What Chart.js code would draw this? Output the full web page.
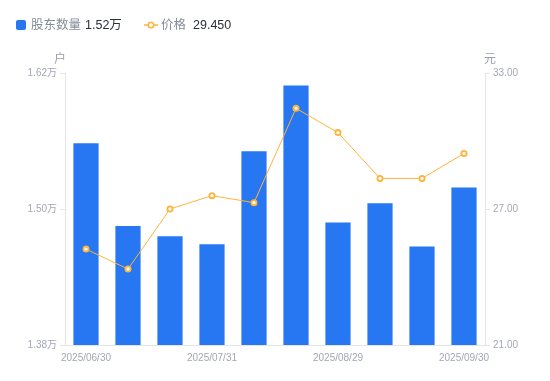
<!DOCTYPE html>
<html>
<head>
<meta charset="utf-8">
<script src="https://cdn.jsdelivr.net/npm/chart.js@4/dist/chart.umd.min.js"></script>
<style>
  html, body { margin: 0; padding: 0; background: #fff; }
  #wrap { position: relative; width: 550px; height: 381px; font-family: "Liberation Sans", "Noto Sans CJK SC", sans-serif; }
  canvas { position: absolute; left: 0; top: 0; }
  .lg { position: absolute; top: 17px; font-size: 12.5px; line-height: 16px; white-space: nowrap; }
  .lbl { color: #868b98; }
  .val { color: #2b2f3a; margin-left: 4px; }
  .unit { position: absolute; font-size: 12px; color: #9a9eaa; top: 49px; }
</style>
</head>
<body>
<div id="wrap">
  <canvas id="c" width="550" height="381"></canvas>
  <div class="lg" style="left:16px;">
    <span style="display:inline-block;width:10px;height:10px;background:#2777F3;border-radius:2px;vertical-align:-1px;margin-right:5px;"></span><span class="lbl">股东数量</span><span class="val">1.52万</span>
  </div>
  <div class="lg" style="left:144px;">
    <svg width="14" height="10" style="vertical-align:-1px;margin-right:3px;"><line x1="0" y1="5" x2="14" y2="5" stroke="#FFB33A" stroke-width="1.5"/><circle cx="7" cy="5" r="2.8" fill="#fff" stroke="#FFB33A" stroke-width="1.6"/></svg><span class="lbl">价格</span><span class="val" style="margin-left:7px;">29.450</span>
  </div>
  <div class="unit" style="left:54px;">户</div>
  <div class="unit" style="left:484px;">元</div>
</div>
<script>
const categories = ["2025/06/30","2025/07/10","2025/07/20","2025/07/31","2025/08/10","2025/08/20","2025/08/29","2025/09/10","2025/09/19","2025/09/30"];
const holders = [1.558, 1.485, 1.476, 1.469, 1.551, 1.609, 1.488, 1.505, 1.467, 1.519];
const prices = [25.23, 24.35, 27.00, 27.59, 27.28, 31.44, 30.37, 28.35, 28.35, 29.45];
const leftTicks = [1.38, 1.50, 1.62];
const rightTicks = [21.00, 27.00, 33.00];
const shownLabelIdx = [0, 3, 6, 9];

const axisColor = '#e3e5ea';
const tickColor = '#a3a7b3';
const tickFont = { family: '"Liberation Sans", "Noto Sans CJK SC", sans-serif', size: 10 };

new Chart(document.getElementById('c'), {
  data: {
    labels: categories,
    datasets: [
      {
        type: 'line', label: '价格', data: prices, yAxisID: 'y1',
        borderColor: '#FFB33A', borderWidth: 1, backgroundColor: '#fff',
        pointRadius: 2.6, pointBorderWidth: 1.8, pointBackgroundColor: '#fff', pointBorderColor: '#FFB33A',
        tension: 0, order: 0
      },
      {
        type: 'bar', label: '股东数量', data: holders, yAxisID: 'y',
        backgroundColor: '#2777F3', categoryPercentage: 0.6, barPercentage: 1.0, order: 1
      }
    ]
  },
  options: {
    responsive: false, animation: false,
    layout: { padding: { top: 73, left: 0, right: 0, bottom: 0 } },
    plugins: { legend: { display: false }, tooltip: { enabled: false } },
    scales: {
      x: {
        grid: { display: false, drawTicks: false },
        border: { display: true, color: axisColor },
        ticks: {
          autoSkip: false, maxRotation: 0, padding: 7, color: tickColor, font: tickFont,
          callback: function(v, i) { return shownLabelIdx.includes(i) ? categories[i] : ''; }
        },
        afterFit: s => { s.height = 36; }
      },
      y: {
        position: 'left', min: leftTicks[0], max: leftTicks[leftTicks.length - 1],
        afterBuildTicks: s => { s.ticks = leftTicks.map(v => ({ value: v })); },
        grid: { drawOnChartArea: false, drawTicks: true, tickLength: 5, color: axisColor },
        border: { display: true, color: axisColor },
        ticks: { padding: 3, color: tickColor, font: tickFont, callback: v => v.toFixed(2) + '万' },
        afterFit: s => { s.width = 65; }
      },
      y1: {
        position: 'right', min: rightTicks[0], max: rightTicks[rightTicks.length - 1],
        afterBuildTicks: s => { s.ticks = rightTicks.map(v => ({ value: v })); },
        grid: { drawOnChartArea: false, drawTicks: true, tickLength: 5, color: axisColor },
        border: { display: true, color: axisColor },
        ticks: { padding: 3, color: tickColor, font: tickFont, callback: v => v.toFixed(2) },
        afterFit: s => { s.width = 65; }
      }
    }
  }
});
</script>
</body>
</html>
